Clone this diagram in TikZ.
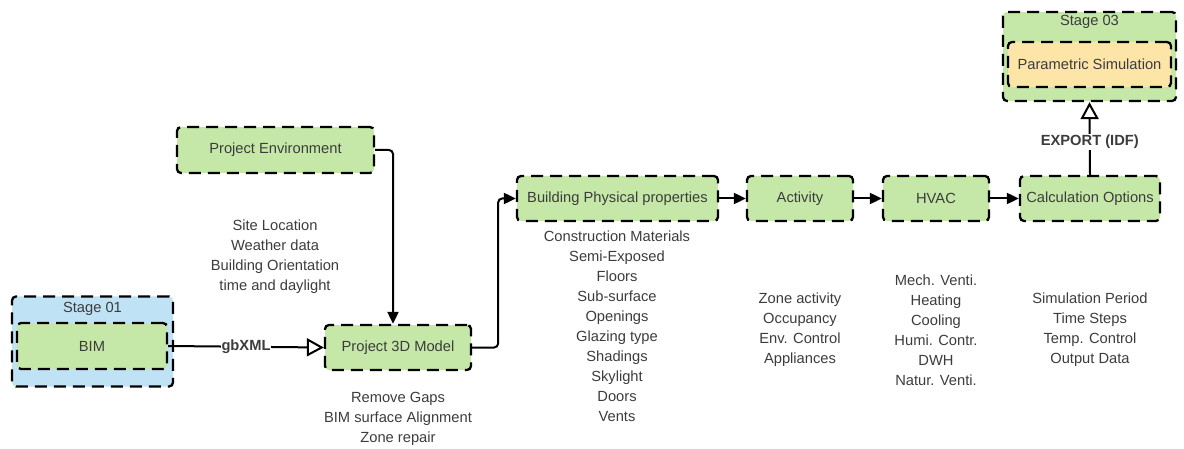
\documentclass[tikz,border=0pt]{standalone}
\usepackage{fontspec}
\setmainfont{Liberation Sans}
\usetikzlibrary{arrows.meta}
\definecolor{boxgreen}{HTML}{C5E8A8}
\definecolor{boxblue}{HTML}{C0E2F5}
\definecolor{boxyellow}{HTML}{FDE5A8}
\definecolor{txtgray}{HTML}{3C3C3C}
\newcommand{\lbl}{\fontsize{14.7}{20}\selectfont}
\tikzset{
  dashbox/.style={draw=black, line width=2.3pt, dash pattern=on 12pt off 7pt,
    rounded corners=4pt, text=txtgray, font=\lbl, inner sep=2pt},
  procbox/.style={dashbox, fill=boxgreen},
  stagebox/.style={dashbox},
  note/.style={align=center, text=txtgray, font=\lbl},
  conn/.style={line width=2pt},
  flow/.style={conn, rounded corners=4pt, -{Triangle[length=12pt,width=11pt]}},
  openflow/.style={conn, -{Triangle[open,length=17pt,width=18pt,fill=white]}},
  edgelabel/.style={fill=white, inner sep=1pt, font=\lbl\bfseries, text=txtgray}
}
\begin{document}
\begin{tikzpicture}[x=1pt,y=-1pt]
\useasboundingbox (0,0) rectangle (1184,449);

% stage frames
\node[stagebox, fill=boxblue, minimum width=161pt, minimum height=90pt] (s1) at (92.5,341.5) {};
\node[note] (s1lbl) at (92.5,309) {Stage 01};
\node[stagebox, fill=boxgreen, minimum width=173pt, minimum height=89pt] (s3) at (1089.5,56.5) {};
\node[note] (s3lbl) at (1089.5,22) {Stage 03};

% process boxes
\node[procbox, minimum width=150pt, minimum height=46pt] (bim) at (92,346) {BIM};
\node[procbox, fill=boxyellow, minimum width=163pt, minimum height=45pt] (psim) at (1089.5,64.5) {Parametric Simulation};
\node[procbox, minimum width=197pt, minimum height=46pt] (penv) at (275.5,150) {Project Environment};
\node[procbox, minimum width=146pt, minimum height=45pt] (p3d) at (398,347.5) {Project 3D Model};
\node[procbox, minimum width=201pt, minimum height=45pt] (bpp) at (617.5,198.5) {Building Physical properties};
\node[procbox, minimum width=106pt, minimum height=45pt] (act) at (800,198.5) {Activity};
\node[procbox, minimum width=106pt, minimum height=45pt] (hvac) at (936,198.5) {HVAC};
\node[procbox, minimum width=140pt, minimum height=45pt] (calc) at (1090,198.5) {Calculation Options};

% descriptive lists
\node[note] (envlist) at (275,257) {Site Location\\Weather data\\Building Orientation\\time and daylight};
\node[note] (p3dlist) at (398,419) {Remove Gaps\\BIM surface Alignment\\Zone repair};
\node[note] (bpplist) at (617,326.5) {Construction Materials\\Semi-Exposed\\Floors\\Sub-surface\\Openings\\Glazing type\\Shadings\\Skylight\\Doors\\Vents};
\node[note] (actlist) at (800,330) {Zone activity\\Occupancy\\Env. Control\\Appliances};
\node[note] (hvaclist) at (936,330) {Mech. Venti.\\Heating\\Cooling\\Humi. Contr.\\DWH\\Natur. Venti.};
\node[note] (calclist) at (1090,330) {Simulation Period\\Time Steps\\Temp. Control\\Output Data};

% connectors
\draw[openflow] (bim.east) -- node[edgelabel] (gbx) {gbXML} (p3d.west);
\draw[flow] (penv.east) -| ([xshift=-5pt]p3d.north);
\draw[flow] (p3d.east) -- ++(26,0) |- (bpp.west);
\draw[flow] (bpp) -- (act);
\draw[flow] (act) -- (hvac);
\draw[flow] (hvac) -- (calc);
\draw[openflow] (calc.north) -- node[edgelabel, pos=0.45] (exp) {EXPORT (IDF)} (s3.south);
\end{tikzpicture}
\end{document}
